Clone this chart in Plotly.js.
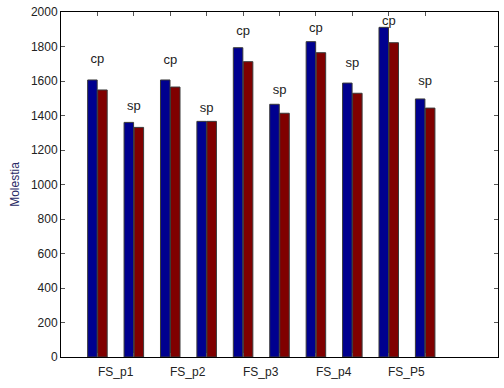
<!DOCTYPE html>
<html>
<head>
<meta charset="utf-8">
<script src="https://cdn.plot.ly/plotly-3.0.1.min.js"></script>
<style>html,body{margin:0;padding:0;background:#fff;}#chart{width:504px;height:388px;}</style>
</head>
<body>
<div id="chart"></div>
<script>
// Data
const positions = [1, 2, 3, 4, 5, 6, 7, 8, 9, 10];
const blueValues = [1606, 1360, 1606, 1366, 1793, 1465, 1828, 1588, 1911, 1496];
const redValues  = [1548, 1331, 1565, 1366, 1712, 1413, 1764, 1529, 1822, 1443];
const pairLabels = ['cp', 'sp', 'cp', 'sp', 'cp', 'sp', 'cp', 'sp', 'cp', 'sp'];
const pairLabelY = [1721, 1448, 1715, 1442, 1884, 1541, 1901, 1698, 1944, 1594];
const categoryNames = ['FS_p1', 'FS_p2', 'FS_p3', 'FS_p4', 'FS_P5'];
const categoryPos = [1.5, 3.5, 5.5, 7.5, 9.5];
const yTicks = [0, 200, 400, 600, 800, 1000, 1200, 1400, 1600, 1800, 2000];

const font = {family: 'Liberation Sans, Arial, sans-serif', size: 12, color: '#222'};

const traces = [
  {type: 'bar', x: positions, y: blueValues, marker: {color: '#00008f', line: {color: '#3a3a3a', width: 1}}, hoverinfo: 'none'},
  {type: 'bar', x: positions, y: redValues, marker: {color: '#800000', line: {color: '#3a3a3a', width: 1}}, hoverinfo: 'none'},
  {type: 'scatter', mode: 'text', x: positions, y: pairLabelY, text: pairLabels,
   textfont: {family: font.family, size: 13, color: '#222'}, hoverinfo: 'none'}
];

const annotations = categoryNames.map((n, i) => ({
  x: categoryPos[i], y: 0, xref: 'x', yref: 'y', text: n, showarrow: false,
  yshift: -15, font: {family: font.family, size: 12, color: '#222'}
}));

const layout = {
  width: 504, height: 388,
  margin: {l: 61, r: 6, t: 12, b: 31},
  paper_bgcolor: '#fff', plot_bgcolor: '#fff',
  showlegend: false,
  barmode: 'group', bargap: 0.45, bargroupgap: 0.05,
  font: font,
  xaxis: {range: [0, 12], tickvals: positions, showticklabels: false,
          ticks: 'inside', ticklen: 4, tickcolor: '#555', mirror: 'ticks',
          showline: true, linecolor: '#000', linewidth: 1, showgrid: false, zeroline: false},
  yaxis: {range: [0, 2000], tickvals: yTicks, ticks: 'inside', ticklen: 4, tickcolor: '#555',
          mirror: 'ticks', showline: true, linecolor: '#000', linewidth: 1, showgrid: false,
          zeroline: false, tickfont: {family: font.family, size: 12, color: '#222'},
          title: {text: 'Molestia', font: {family: font.family, size: 12, color: '#2a2a66'}, standoff: 8}},
  annotations: annotations
};

Plotly.newPlot('chart', traces, layout, {displayModeBar: false, staticPlot: true});
</script>
</body>
</html>
